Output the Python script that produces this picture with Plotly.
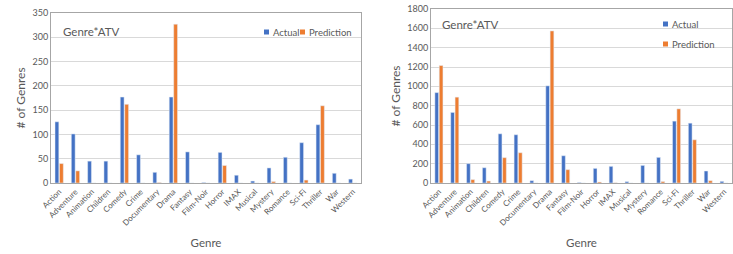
import plotly.graph_objects as go

genres = ["Action", "Adventure", "Animation", "Children", "Comedy", "Crime", "Documentary",
          "Drama", "Fantasy", "Film-Noir", "Horror", "IMAX", "Musical", "Mystery",
          "Romance", "Sci-Fi", "Thriller", "War", "Western"]

left_actual = [126, 101, 45, 45, 177, 58, 22, 177, 64, 1, 63, 16, 4, 31, 53, 83, 120, 20, 8]
left_pred = [40, 25, 0, 0, 162, 0, 1, 327, 0, 0, 36, 0, 0, 3, 0, 6, 159, 0, 0]

right_actual = [935, 730, 200, 158, 509, 499, 24, 1005, 282, 5, 151, 172, 14, 182, 265, 640, 619, 124, 17]
right_pred = [1215, 888, 35, 20, 262, 313, 0, 1573, 138, 0, 10, 2, 0, 0, 15, 767, 447, 24, 0]

series_names = ["Actual", "Prediction"]
chart_title = "Genre*ATV"

BLUE = "#4472C4"
ORANGE = "#ED7D31"
TXT = "#595959"
FONT = "Lato"

W, H = 733, 254


def px_x(p):
    return p / W


def px_y(p):
    return 1 - p / H


fig = go.Figure()

fig.add_bar(x=genres, y=left_actual, name=series_names[0], marker_color=BLUE, xaxis="x", yaxis="y")
fig.add_bar(x=genres, y=left_pred, name=series_names[1], marker_color=ORANGE, xaxis="x", yaxis="y")
fig.add_bar(x=genres, y=right_actual, name=series_names[0], marker_color=BLUE, xaxis="x2", yaxis="y2")
fig.add_bar(x=genres, y=right_pred, name=series_names[1], marker_color=ORANGE, xaxis="x2", yaxis="y2")

axis_common = dict(showline=True, linecolor="#a6a6a6", linewidth=1, mirror=True, automargin=False)
xtick = dict(family=FONT, size=8, color=TXT)
ytick = dict(family=FONT, size=9, color=TXT)

shapes = []
annotations = []


def legend_item(x_sq, y_c, text, color):
    shapes.append(dict(type="rect", xref="paper", yref="paper",
                       x0=px_x(x_sq), x1=px_x(x_sq + 5), y0=px_y(y_c + 2.5), y1=px_y(y_c - 2.5),
                       fillcolor=color, line=dict(width=0)))
    annotations.append(dict(text=text, xref="paper", yref="paper", x=px_x(x_sq + 6.5), y=px_y(y_c),
                            xanchor="left", yanchor="middle", showarrow=False,
                            font=dict(family=FONT, size=9.5, color=TXT)))


legend_item(264, 32, series_names[0], BLUE)
legend_item(300, 32, series_names[1], ORANGE)
legend_item(663, 24, series_names[0], BLUE)
legend_item(663, 44, series_names[1], ORANGE)

annotations.append(dict(text=chart_title, xref="paper", yref="paper", x=px_x(61), y=px_y(31),
                        xanchor="left", yanchor="middle", showarrow=False,
                        font=dict(family=FONT, size=11.5, color=TXT)))
annotations.append(dict(text=chart_title, xref="paper", yref="paper", x=px_x(440), y=px_y(24),
                        xanchor="left", yanchor="middle", showarrow=False,
                        font=dict(family=FONT, size=11.5, color=TXT)))

fig.update_layout(
    width=W, height=H,
    margin=dict(l=0, r=0, t=0, b=0),
    paper_bgcolor="white", plot_bgcolor="white",
    barmode="group", bargap=0.45, bargroupgap=0.15,
    showlegend=False,
    font=dict(family=FONT, color=TXT),
    xaxis=dict(domain=[px_x(51), px_x(361)], anchor="y", tickangle=-45, ticks="", tickfont=xtick,
               title=dict(text="Genre", font=dict(size=11.5, color=TXT), standoff=12),
               **axis_common),
    yaxis=dict(domain=[px_y(183), px_y(13)], anchor="x", range=[0, 350], dtick=50,
               showgrid=True, gridcolor="#d9d9d9", zeroline=False, tickfont=ytick,
               title=dict(text="# of Genres", font=dict(size=12, color=TXT), standoff=4),
               **axis_common),
    xaxis2=dict(domain=[px_x(431), px_x(732)], anchor="y2", tickangle=-45, ticks="", tickfont=xtick,
                title=dict(text="Genre", font=dict(size=11.5, color=TXT), standoff=12),
                **axis_common),
    yaxis2=dict(domain=[px_y(183), px_y(9)], anchor="x2", range=[0, 1800], dtick=200,
                showgrid=True, gridcolor="#d9d9d9", zeroline=False, tickfont=ytick,
                title=dict(text="# of Genres", font=dict(size=12, color=TXT), standoff=4),
                **axis_common),
    shapes=shapes,
    annotations=annotations,
)

fig.write_html("out.html", config={"displayModeBar": False},
               post_script="document.body.style.margin='0';document.body.style.overflow='hidden';")
